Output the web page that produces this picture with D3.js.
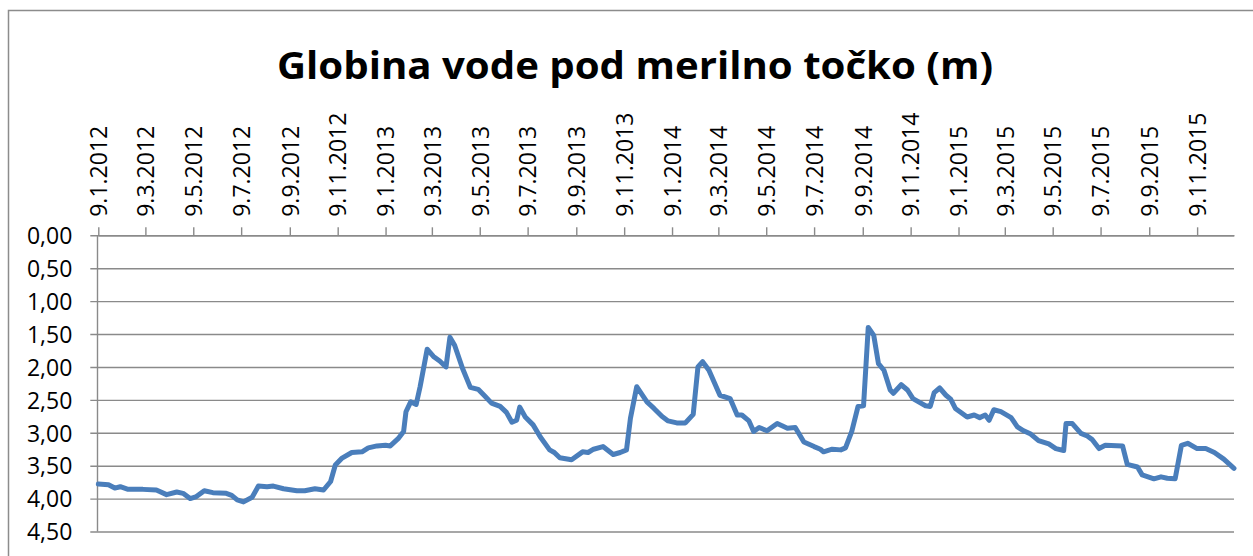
<!DOCTYPE html>
<html>
<head>
<meta charset="utf-8">
<script src="https://cdn.jsdelivr.net/npm/d3@7"></script>
<style>
  html, body { margin: 0; padding: 0; background: #ffffff; }
  svg { display: block; }
</style>
</head>
<body>
<svg id="chart" width="1253" height="556"></svg>
<script>
const chartTitle = "Globina vode pod merilno točko (m)";

const sampleDates = [
  "2012-01-09","2012-01-22","2012-01-30","2012-02-06","2012-02-16","2012-03-06","2012-03-23","2012-04-05","2012-04-18","2012-04-26",
  "2012-05-05","2012-05-13","2012-05-23","2012-06-03","2012-06-20","2012-06-27","2012-07-04","2012-07-12","2012-07-23","2012-07-31",
  "2012-08-11","2012-08-19","2012-09-01","2012-09-18","2012-09-28","2012-10-11","2012-10-22","2012-10-31","2012-11-06","2012-11-14",
  "2012-11-27","2012-12-10","2012-12-18","2012-12-29",
  "2013-01-09","2013-01-15","2013-01-25","2013-02-01","2013-02-04","2013-02-10","2013-02-17","2013-02-22","2013-03-03","2013-03-11",
  "2013-03-19","2013-03-27","2013-04-01","2013-04-07","2013-04-17","2013-04-27","2013-05-07","2013-05-16","2013-05-24","2013-06-04",
  "2013-06-12","2013-06-19","2013-06-25","2013-06-29","2013-07-06","2013-07-16","2013-07-25","2013-08-06","2013-08-12","2013-08-19",
  "2013-09-03","2013-09-17","2013-09-24","2013-10-01","2013-10-13","2013-10-26","2013-11-04","2013-11-12","2013-11-17","2013-11-25",
  "2013-12-08","2013-12-17","2013-12-27",
  "2014-01-04","2014-01-15","2014-01-26","2014-02-05","2014-02-11","2014-02-17","2014-02-25","2014-03-11","2014-03-24","2014-04-02",
  "2014-04-08","2014-04-17","2014-04-23","2014-04-30","2014-05-10","2014-05-23","2014-06-05","2014-06-15","2014-06-26","2014-07-09",
  "2014-07-17","2014-07-21","2014-08-01","2014-08-12","2014-08-18","2014-08-26","2014-09-03","2014-09-10","2014-09-16","2014-09-23",
  "2014-09-29","2014-10-06","2014-10-14","2014-10-18","2014-10-28","2014-11-05","2014-11-12","2014-11-22","2014-11-28","2014-12-04",
  "2014-12-09","2014-12-16","2014-12-24","2014-12-30",
  "2015-01-05","2015-01-20","2015-01-29","2015-02-05","2015-02-12","2015-02-17","2015-02-23","2015-03-04","2015-03-17","2015-03-25",
  "2015-04-02","2015-04-11","2015-04-21","2015-05-04","2015-05-13","2015-05-23","2015-05-26","2015-06-03","2015-06-14","2015-06-22",
  "2015-06-28","2015-07-07","2015-07-15","2015-08-06","2015-08-12","2015-08-25","2015-08-31","2015-09-15","2015-09-24","2015-10-02",
  "2015-10-12","2015-10-20","2015-10-28","2015-11-09","2015-11-20","2015-12-01","2015-12-13","2015-12-26"
];

const depthValues = [
  3.78,3.79,3.84,3.82,3.86,3.86,3.87,3.94,3.90,3.92,
  4.00,3.97,3.88,3.91,3.92,3.95,4.02,4.05,3.98,3.81,
  3.82,3.81,3.85,3.88,3.88,3.85,3.87,3.74,3.49,3.39,
  3.30,3.29,3.23,3.20,
  3.19,3.20,3.09,2.98,2.68,2.53,2.57,2.30,1.73,1.84,
  1.91,2.00,1.55,1.67,2.02,2.31,2.34,2.45,2.55,2.60,
  2.69,2.84,2.81,2.61,2.76,2.88,3.06,3.26,3.30,3.38,
  3.41,3.29,3.30,3.25,3.21,3.33,3.30,3.26,2.78,2.30,
  2.53,2.63,2.75,
  2.82,2.85,2.85,2.72,2.00,1.92,2.05,2.43,2.48,2.73,
  2.73,2.82,2.98,2.92,2.97,2.86,2.93,2.92,3.14,3.21,
  3.25,3.29,3.25,3.26,3.23,2.98,2.60,2.59,1.40,1.52,
  1.95,2.05,2.35,2.40,2.27,2.35,2.48,2.55,2.59,2.60,
  2.39,2.32,2.43,2.49,
  2.63,2.76,2.73,2.77,2.73,2.81,2.65,2.68,2.77,2.91,
  2.97,3.02,3.12,3.17,3.24,3.27,2.86,2.86,3.01,3.05,
  3.10,3.24,3.19,3.20,3.48,3.52,3.64,3.70,3.67,3.69,
  3.70,3.19,3.16,3.24,3.24,3.30,3.40,3.54
];

const xTickDates = [
  "2012-01-09","2012-03-09","2012-05-09","2012-07-09","2012-09-09","2012-11-09",
  "2013-01-09","2013-03-09","2013-05-09","2013-07-09","2013-09-09","2013-11-09",
  "2014-01-09","2014-03-09","2014-05-09","2014-07-09","2014-09-09","2014-11-09",
  "2015-01-09","2015-03-09","2015-05-09","2015-07-09","2015-09-09","2015-11-09"
];
const yTickValues = [0, 0.5, 1, 1.5, 2, 2.5, 3, 3.5, 4, 4.5];
const xDomain = ["2012-01-09", "2015-12-26"];
const yDomain = [0, 4.5];

const parse = d3.timeParse("%Y-%m-%d");
const data = sampleDates.map((d, i) => ({ date: parse(d), v: depthValues[i] }));

const svg = d3.select("#chart");
const plotLeft = 98.3, plotRight = 1234, plotTop = 235.3, plotBottom = 531.5;
const gridColor = "#8a8a8a";
const fontFamily = "'Open Sans', 'Liberation Sans', sans-serif";

const x = d3.scaleTime().domain(xDomain.map(parse)).range([plotLeft, plotRight]);
const y = d3.scaleLinear().domain(yDomain).range([plotTop, plotBottom]);

// outer chart frame
svg.append("path")
  .attr("d", `M8.5,560 L8.5,10.5 L1260,10.5`)
  .attr("fill", "none")
  .attr("stroke", "#8c8c8c")
  .attr("stroke-width", 1.5);

// title
svg.append("text")
  .attr("x", 635)
  .attr("y", 79)
  .attr("text-anchor", "middle")
  .attr("font-family", fontFamily)
  .attr("font-weight", "bold")
  .attr("font-size", 38)
  .attr("textLength", 716)
  .attr("lengthAdjust", "spacingAndGlyphs")
  .attr("fill", "#000")
  .text(chartTitle);

// y axis: gridlines + labels
const yAxis = d3.axisLeft(y)
  .tickValues(yTickValues)
  .tickSize(-(plotRight - (plotLeft - 8)))
  .tickPadding(18)
  .tickFormat(d => d.toFixed(2).replace(".", ","));

const gy = svg.append("g")
  .attr("transform", `translate(${plotLeft - 8},0)`)
  .call(yAxis);
gy.select(".domain").remove();
gy.selectAll(".tick line").attr("stroke", gridColor).attr("stroke-width", 1.4);
gy.selectAll(".tick text")
  .attr("font-family", fontFamily)
  .attr("font-size", 23)
  .attr("fill", "#000")
  .attr("dy", "0.36em");

// vertical axis line
svg.append("line")
  .attr("x1", plotLeft - 0.8).attr("x2", plotLeft - 0.8)
  .attr("y1", y(yDomain[0])).attr("y2", y(yDomain[1]))
  .attr("stroke", gridColor)
  .attr("stroke-width", 1.4);

// x axis at the top
const fmt = d3.timeFormat("%-d.%-m.%Y");
const xAxis = d3.axisTop(x)
  .tickValues(xTickDates.map(parse))
  .tickSize(8)
  .tickSizeOuter(0)
  .tickFormat(fmt);

const gx = svg.append("g")
  .attr("transform", `translate(0,${plotTop})`)
  .call(xAxis);
gx.select(".domain").attr("stroke", gridColor).attr("stroke-width", 1.4);
gx.selectAll(".tick line").attr("stroke", gridColor).attr("stroke-width", 1.4);
gx.selectAll(".tick text")
  .attr("font-family", fontFamily)
  .attr("font-size", 23)
  .attr("fill", "#000")
  .attr("transform", "rotate(-90)")
  .attr("text-anchor", "start")
  .attr("x", 18.5)
  .attr("y", 0)
  .attr("dy", "0.36em");

// data line
const line = d3.line()
  .x(d => x(d.date))
  .y(d => y(d.v));

svg.append("path")
  .datum(data)
  .attr("d", line)
  .attr("fill", "none")
  .attr("stroke", "#4a7ebb")
  .attr("stroke-width", 5)
  .attr("stroke-linejoin", "round")
  .attr("stroke-linecap", "round");
</script>
</body>
</html>
